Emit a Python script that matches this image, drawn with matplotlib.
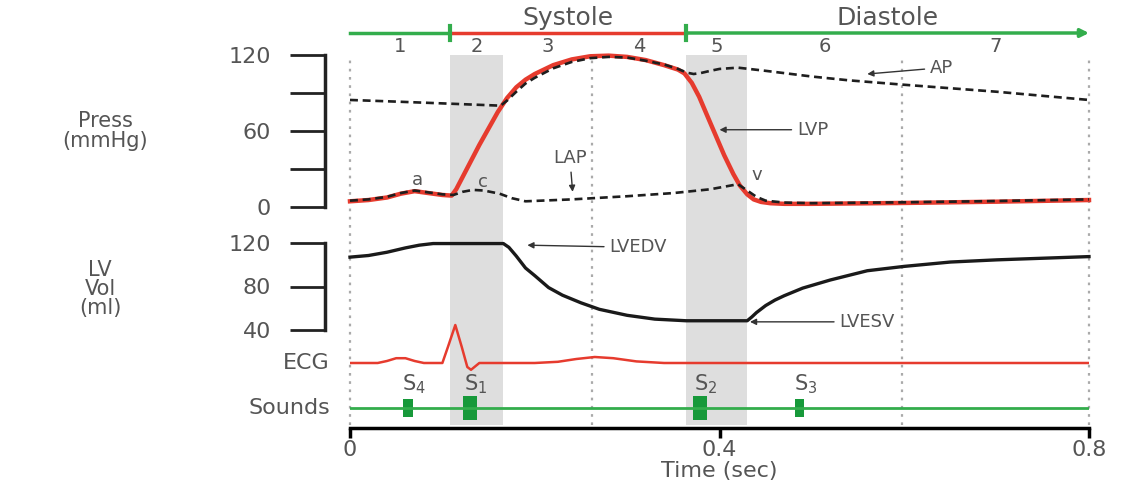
import matplotlib.pyplot as plt

plt.rcParams['font.family'] = ['DejaVu Sans']

# phase boundaries of the cardiac cycle (sec)
phase_edges = [0.0, 0.108, 0.166, 0.262, 0.364, 0.43, 0.598, 0.8]
phase_names = ['1', '2', '3', '4', '5', '6', '7']

# left ventricular pressure (mmHg)
lvp_t = [0.0, 0.02, 0.04, 0.055, 0.07, 0.085, 0.1, 0.11, 0.115, 0.12, 0.13, 0.14, 0.15, 0.16,
         0.17, 0.18, 0.19, 0.2, 0.22, 0.24, 0.26, 0.28, 0.3, 0.32, 0.34, 0.355, 0.362, 0.37,
         0.378, 0.385, 0.395, 0.405, 0.415, 0.422, 0.43, 0.437, 0.445, 0.455, 0.47, 0.5,
         0.6, 0.7, 0.8]
lvp = [4.5, 5.5, 7.5, 10.5, 12.5, 11, 9.5, 9, 14, 21, 35, 49, 62, 75,
       86, 94.5, 100.5, 105, 112, 116.5, 119, 119.5, 118.5, 116, 112, 108.5, 105.5, 98,
       87, 75, 58, 41, 26, 17, 10, 6, 4, 3, 2.5, 2.5,
       3.2, 4.2, 5.5]

# aortic pressure (mmHg)
ap_t = [0.0, 0.05, 0.1, 0.163, 0.17, 0.18, 0.19, 0.2, 0.22, 0.24, 0.26, 0.28, 0.3, 0.32, 0.34,
        0.355, 0.365, 0.372, 0.38, 0.39, 0.4, 0.42, 0.45, 0.5, 0.54, 0.6, 0.7, 0.8]
ap = [84.5, 83.2, 81.8, 80, 84, 91, 97.5, 102, 109.5, 114.5, 117.5, 118.5, 118, 115.5, 112.5,
      109, 106, 105, 105.8, 107.5, 109, 110, 107.5, 103, 100, 96.5, 91, 84.5]

# left atrial pressure (mmHg)
lap_t = [0.0, 0.02, 0.04, 0.055, 0.07, 0.085, 0.1, 0.112, 0.122, 0.133, 0.145, 0.162, 0.175,
         0.19, 0.24, 0.3, 0.35, 0.39, 0.42, 0.43, 0.44, 0.45, 0.47, 0.5, 0.6, 0.7, 0.8]
lap = [5, 6, 8, 11, 13, 11.5, 10, 9.5, 12, 13.5, 13, 10.5, 7,
       4.5, 6, 8.5, 11, 14, 18, 13, 8, 5, 3.5, 3, 3.7, 4.7, 6]

# left ventricular volume (ml)
vol_t = [0.0, 0.02, 0.04, 0.06, 0.075, 0.09, 0.166, 0.172, 0.18, 0.19, 0.2, 0.215, 0.23,
         0.25, 0.27, 0.3, 0.33, 0.364, 0.43, 0.435, 0.44, 0.45, 0.46, 0.47, 0.49, 0.52,
         0.56, 0.6, 0.65, 0.7, 0.75, 0.8]
vol = [107, 108.5, 111.5, 115.5, 118, 119.5, 119.5, 116, 108, 97, 90, 79, 72,
       65, 59, 53.5, 50, 48.5, 48.5, 52, 56, 62.5, 67.5, 71.5, 78.5, 86,
       94.5, 98.5, 102.5, 104.5, 106, 107.5]

# ECG (arbitrary units)
ecg_t = [0.0, 0.03, 0.04, 0.05, 0.06, 0.07, 0.08, 0.1, 0.106, 0.114, 0.121, 0.127, 0.131,
         0.14, 0.2, 0.225, 0.245, 0.265, 0.285, 0.31, 0.34, 0.8]
ecg = [0, 0, 0.05, 0.12, 0.12, 0.05, 0, 0, 0.4, 0.95, 0.4, -0.1, -0.17,
       0, 0, 0.03, 0.1, 0.15, 0.12, 0.04, 0, 0]

# heart sounds
sound_t = [0.063, 0.13, 0.379, 0.487]
sound_dur = [0.011, 0.015, 0.016, 0.010]
sound_amp = [0.7, 0.95, 0.95, 0.7]
sound_lbl = ['S$_4$', 'S$_1$', 'S$_2$', 'S$_3$']

txt = '#555555'
red = '#e63b2e'
green = '#33ad4c'
dgreen = '#17993a'

W, H = 1131, 482
L, WID = 350 / W, 739 / W


def box(top, bottom):
    return [L, 1 - bottom / H, WID, (bottom - top) / H]


fig = plt.figure(figsize=(W / 100, H / 100), dpi=100)

# background axis: shading, phase bar, time axis
bg = fig.add_axes(box(0, 428))
bg.set_xlim(0, 0.8)
bg.set_ylim(0, 1)
for s in ['left', 'right', 'top']:
    bg.spines[s].set_visible(False)
bg.spines['bottom'].set_linewidth(2.5)
bg.set_yticks([])
bg.set_xticks([0, 0.4, 0.8])
bg.set_xticklabels(['0', '0.4', '0.8'])
bg.tick_params(axis='x', length=7, width=2.5, labelsize=16, labelcolor=txt, pad=2)
bg.set_xlabel('Time (sec)', fontsize=16, color=txt, labelpad=0)

ylo, yhi = 3 / 428, 373 / 428
for i in [1, 4]:
    bg.axvspan(phase_edges[i], phase_edges[i + 1], ymin=ylo, ymax=yhi,
               color='#dedede', lw=0, zorder=0)
for i in [0, 3, 6, 7]:
    bg.axvline(phase_edges[i], ymin=ylo, ymax=yhi, color='#aaaaaa', lw=1.6,
               ls=(0, (1.2, 2.5)), clip_on=False, zorder=0)

tr = bg.get_xaxis_transform()
yb = 395 / 428
bg.plot([0, phase_edges[1]], [yb, yb], color=green, lw=2.5, transform=tr, clip_on=False)
bg.plot([phase_edges[1], phase_edges[4]], [yb, yb], color=red, lw=2.5, transform=tr, clip_on=False)
bg.annotate('', xy=(0.8, yb), xytext=(phase_edges[4], yb), xycoords=tr,
            arrowprops=dict(arrowstyle='-|>', color=green, lw=2.5, mutation_scale=12,
                            shrinkA=0, shrinkB=0))
for i in [1, 4]:
    bg.plot([phase_edges[i]] * 2, [yb - 0.016, yb + 0.016], color=green, lw=3,
            transform=tr, clip_on=False)
bg.text((phase_edges[1] + phase_edges[4]) / 2, 410 / 428, 'Systole', transform=tr,
        ha='center', va='center', fontsize=18, color=txt)
bg.text((phase_edges[4] + 0.8) / 2, 410 / 428, 'Diastole', transform=tr,
        ha='center', va='center', fontsize=18, color=txt)
for i, name in enumerate(phase_names):
    bg.text((phase_edges[i] + phase_edges[i + 1]) / 2, 381 / 428, name, transform=tr,
            ha='center', va='center', fontsize=14, color=txt)


def side_axis(ax):
    ax.patch.set_visible(False)
    ax.set_xlim(0, 0.8)
    ax.set_xticks([])
    for s in ['right', 'top', 'bottom']:
        ax.spines[s].set_visible(False)
    ax.spines['left'].set_position(('outward', 18))
    ax.spines['left'].set_linewidth(2.5)
    ax.spines['left'].set_color('#222222')
    ax.tick_params(axis='y', length=25, width=2, color='#222222',
                   labelsize=16, labelcolor=txt, pad=14)


# pressures
ax_p = fig.add_axes(box(55, 207))
side_axis(ax_p)
ax_p.set_ylim(0, 120)
ax_p.set_yticks([0, 30, 60, 90, 120])
ax_p.set_yticklabels(['0', '', '60', '', '120'])
ax_p.plot(lvp_t, lvp, color=red, lw=3.2, clip_on=False, zorder=2)
ax_p.plot(ap_t, ap, color='#1e1e1e', lw=1.9, ls=(0, (3, 1.8)), clip_on=False, zorder=3)
ax_p.plot(lap_t, lap, color='#1e1e1e', lw=1.9, ls=(0, (3, 1.8)), clip_on=False, zorder=3)

ax_p.text(0.0725, 21, 'a', ha='center', va='center', fontsize=13, color=txt)
ax_p.text(0.144, 20, 'c', ha='center', va='center', fontsize=13, color=txt)
ax_p.text(0.44, 25, 'v', ha='center', va='center', fontsize=13, color=txt)
arrow = dict(arrowstyle='-|>', color='#333333', lw=1, mutation_scale=9, shrinkA=2, shrinkB=0)
ax_p.annotate('LAP', xy=(0.241, 12), xytext=(0.238, 39), ha='center', va='center',
              fontsize=13, color=txt, arrowprops=arrow)
ax_p.annotate('LVP', xy=(0.4, 61), xytext=(0.484, 61), ha='left', va='center',
              fontsize=13, color=txt, arrowprops=arrow)
ax_p.annotate('AP', xy=(0.56, 105), xytext=(0.628, 110), ha='left', va='center',
              fontsize=13, color=txt, arrowprops=arrow)

# volume
ax_v = fig.add_axes(box(243, 330))
side_axis(ax_v)
ax_v.set_ylim(40, 120)
ax_v.set_yticks([40, 80, 120])
ax_v.plot(vol_t, vol, color='#1a1a1a', lw=2.4, clip_on=False)
ax_v.annotate('LVEDV', xy=(0.192, 118), xytext=(0.281, 116), ha='left', va='center',
              fontsize=13, color=txt, arrowprops=arrow)
ax_v.annotate('LVESV', xy=(0.433, 47.5), xytext=(0.53, 47.5), ha='left', va='center',
              fontsize=13, color=txt, arrowprops=arrow)

fig.text(105 / W, 1 - 131 / H, 'Press\n(mmHg)', ha='center', va='center',
         fontsize=15, color=txt, linespacing=1.0)
fig.text(100 / W, 1 - 289 / H, 'LV\nVol\n(ml)', ha='center', va='center',
         fontsize=15, color=txt, linespacing=0.95)

# ECG
ax_e = fig.add_axes(box(318, 383))
ax_e.axis('off')
ax_e.set_xlim(0, 0.8)
ax_e.set_ylim(-0.5, 1.125)
ax_e.plot(ecg_t, ecg, color=red, lw=1.8)
ax_e.text(-0.027, 0, 'ECG', transform=ax_e.get_yaxis_transform(), ha='right',
          va='center', fontsize=16, color=txt)

# heart sounds
ax_s = fig.add_axes(box(395, 421))
ax_s.axis('off')
ax_s.set_xlim(0, 0.8)
ax_s.set_ylim(-1, 1)
ax_s.axhline(0, color=green, lw=2)
ax_s.bar(sound_t, [2 * a for a in sound_amp], bottom=[-a for a in sound_amp],
         width=sound_dur, color=dgreen, lw=0)
for t, lb in zip(sound_t, sound_lbl):
    ax_s.text(t + 0.006, 1.85, lb, ha='center', va='center', fontsize=15, color=txt,
              clip_on=False)
ax_s.text(-0.027, 0, 'Sounds', transform=ax_s.get_yaxis_transform(), ha='right',
          va='center', fontsize=16, color=txt)

fig.savefig('out.png', dpi=100)
